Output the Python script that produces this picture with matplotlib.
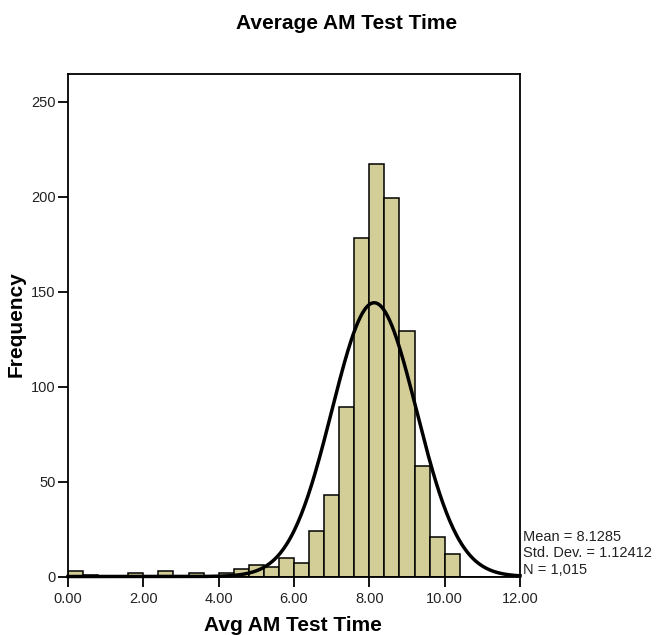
import numpy as np
import matplotlib
matplotlib.use("Agg")
import matplotlib.pyplot as plt

# histogram bins (width 0.4) and counts
bin_edges = [round(0.4 * i, 1) for i in range(31)]
counts = [3, 1, 0, 0, 2, 0, 3, 0, 2, 0,
          2, 4, 6, 5, 10, 7, 24, 43, 89, 178,
          217, 199, 129, 58, 21, 12, 0, 0, 0, 0]

mean_val = 8.1285
std_val = 1.12412
n_val = 1015

x_ticks = [0, 2, 4, 6, 8, 10, 12]
x_labels = ["0.00", "2.00", "4.00", "6.00", "8.00", "10.00", "12.00"]
y_ticks = [0, 50, 100, 150, 200, 250]

plt.rcParams["font.family"] = ["Liberation Sans", "DejaVu Sans"]

fig = plt.figure(figsize=(6.57, 6.35), dpi=100)
ax = fig.add_axes([0.1035, 0.0921, 0.688, 0.7914])

lefts = np.array(bin_edges[:-1])
widths = np.diff(bin_edges)
ax.bar(lefts, counts, width=widths, align="edge", color="#d3ce97",
       edgecolor="black", linewidth=1.1, zorder=2)

# normal curve scaled to N * bin width
bw = widths[0]
xs = np.linspace(0, 12, 400)
ys = n_val * bw / (std_val * np.sqrt(2 * np.pi)) * np.exp(-0.5 * ((xs - mean_val) / std_val) ** 2)
ax.plot(xs, ys, color="black", linewidth=2.5, zorder=3, clip_on=False)

ax.set_xlim(0, 12)
ax.set_ylim(0, 264.5)
ax.set_xticks(x_ticks)
ax.set_xticklabels(x_labels)
ax.set_yticks(y_ticks)
ax.tick_params(axis="both", direction="out", length=7, width=1.3, labelsize=10.5,
               labelcolor="#222222", pad=2)
ax.tick_params(axis="x", pad=4)
for s in ax.spines.values():
    s.set_linewidth(1.3)

fig.text(0.446, 1 - 631 / 635, "Avg AM Test Time", ha="center", va="baseline",
         fontsize=15, fontweight="bold")
fig.text(0.024, 0.49, "Frequency", ha="center", va="center", rotation=90,
         fontsize=15, fontweight="bold")
fig.text(0.528, 1 - 29 / 635, "Average AM Test Time", ha="center", va="baseline",
         fontsize=15, fontweight="bold")

stats = "Mean = %.4f\nStd. Dev. = %.5f\nN = 1,015" % (mean_val, std_val)
ax.text(1.006, 0.0, stats, transform=ax.transAxes, ha="left", va="bottom",
        fontsize=10.5, linespacing=1.2, color="#222222")

fig.savefig("out.png", dpi=100)
